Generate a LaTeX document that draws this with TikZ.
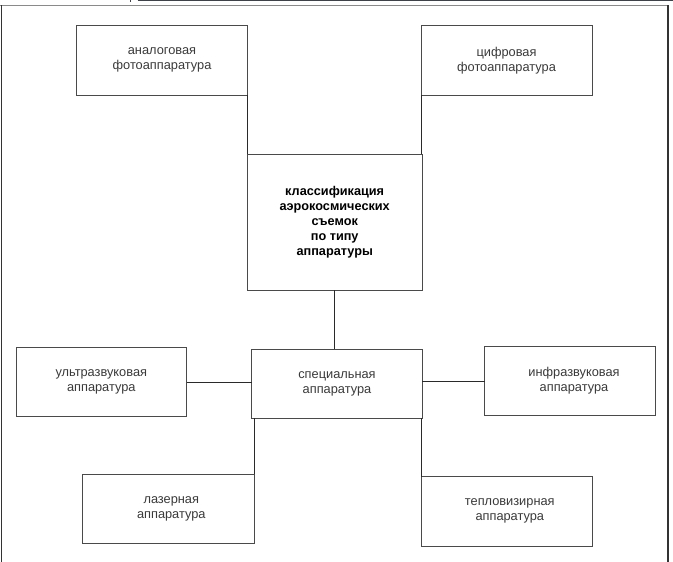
\documentclass[tikz,border=0pt]{standalone}
\usepackage{fontspec}
\setmainfont{Liberation Sans}
\definecolor{boxline}{HTML}{4A4A4A}
\definecolor{txt}{HTML}{3A3A3A}
\definecolor{conn}{HTML}{2A2A2A}
\definecolor{stripe}{HTML}{3C4250}
\definecolor{frametop}{HTML}{8A8A8A}
\begin{document}
\begin{tikzpicture}[x=1pt,y=1pt,
  box/.style={draw=boxline,line width=0.9pt,fill=white,inner sep=0pt,outer sep=0pt,
    align=center,text=txt,font=\fontsize{12.8}{15}\selectfont},
  mainbox/.style={box,text=black,font=\bfseries\fontsize{12.7}{15}\selectfont},
  conn/.style={draw=conn,line width=0.9pt},
  framel/.style={line width=1.4pt,draw=black!80}]
\useasboundingbox (0,0) rectangle (673,-562);
% page frame
\draw[line width=1.5pt,stripe] (137.7,-0.7) -- (673,-0.7);
\draw[line width=0.8pt,stripe] (130.7,0) -- (130.7,-1.6);
\draw[line width=0.9pt,frametop] (0,-5.6) -- (668,-5.6);
\draw[framel] (1.3,-5.2) -- (1.3,-562);
\draw[framel] (667.8,-5.2) -- (667.8,-562);
% nodes
\node[box,minimum width=170.6pt,minimum height=69.3pt] (A) at (162,-60.35) {аналоговая\\фотоаппаратура};
\node[box,minimum width=171pt,minimum height=69.3pt] (B) at (506.5,-60.35) {цифровая\\фотоаппаратура};
\node[mainbox,minimum width=174.7pt,minimum height=136.5pt] (C) at (334.7,-222.2) {классификация\\аэрокосмических\\съемок\\по типу\\аппаратуры};
\node[box,minimum width=170.6pt,minimum height=69pt] (S) at (337,-383.5) {специальная\\аппаратура};
\node[box,minimum width=170.7pt,minimum height=69pt] (U) at (101.3,-382.2) {ультразвуковая\\аппаратура};
\node[box,minimum width=170.6pt,minimum height=68.6pt] (I) at (570,-381) {\hspace*{8pt}инфразвуковая\\\hspace*{8pt}аппаратура};
\node[box,minimum width=171.3pt,minimum height=69.3pt] (L) at (168.3,-508.7) {\hspace*{6pt}лазерная\\\hspace*{6pt}аппаратура};
\node[box,minimum width=171pt,minimum height=69.3pt] (T) at (506.8,-511.3) {\hspace*{6pt}тепловизирная\\\hspace*{6pt}аппаратура};
% connectors
\draw[conn] (A.south east) -- (A.south east |- C.north);
\draw[conn] (B.south west) -- (B.south west |- C.north);
\draw[conn] (C.south) -- (C.south |- S.north);
\draw[conn] (U.east) -- (U.east -| S.west);
\draw[conn] (I.west) -- (I.west -| S.east);
\draw[conn] (L.north east) -- (L.north east |- S.south);
\draw[conn] (T.north west) -- (T.north west |- S.south);
\end{tikzpicture}
\end{document}
